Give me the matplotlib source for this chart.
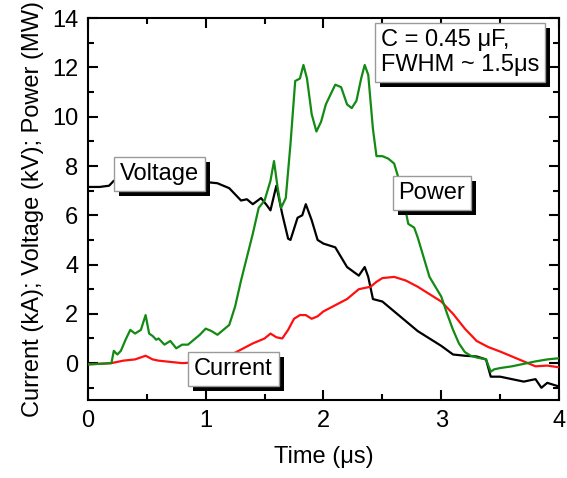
import numpy as np
import matplotlib
matplotlib.use('Agg')
import matplotlib.pyplot as plt
import matplotlib.transforms as mtransforms
from matplotlib.patches import Rectangle

plt.rcParams['font.family'] = ['Liberation Sans', 'DejaVu Sans']

t_voltage = [0.0, 0.1, 0.18, 0.22, 0.26, 0.4, 0.6, 0.8, 1.0, 1.1, 1.2, 1.3, 1.35, 1.4, 1.47, 1.52, 1.55,
             1.6, 1.65, 1.7, 1.72, 1.78, 1.82, 1.85, 1.9, 1.95, 2.0, 2.1, 2.2, 2.3, 2.35, 2.38, 2.42,
             2.5, 2.6, 2.7, 2.8, 2.9, 3.0, 3.1, 3.2, 3.3, 3.38, 3.42, 3.5, 3.6, 3.7, 3.8, 3.85, 3.9, 4.0]
voltage = [7.15, 7.15, 7.2, 7.4, 7.3, 7.35, 7.35, 7.35, 7.35, 7.3, 7.1, 6.6, 6.65, 6.45, 6.7, 6.4, 6.2,
           7.2, 6.05, 5.05, 5.0, 5.9, 6.0, 6.45, 5.8, 5.0, 4.85, 4.7, 3.9, 3.55, 3.9, 3.5, 2.6,
           2.5, 2.1, 1.7, 1.3, 1.0, 0.7, 0.35, 0.3, 0.27, 0.15, -0.55, -0.55, -0.65, -0.75, -0.65, -1.0, -0.8, -0.95]

t_power = [0.0, 0.1, 0.2, 0.22, 0.25, 0.28, 0.32, 0.36, 0.4, 0.45, 0.49, 0.52, 0.55, 0.58, 0.6, 0.65,
           0.7, 0.75, 0.8, 0.85, 0.9, 0.95, 1.0, 1.05, 1.1, 1.15, 1.2, 1.25, 1.3, 1.35, 1.4, 1.45,
           1.5, 1.55, 1.58, 1.61, 1.64, 1.68, 1.72, 1.76, 1.8, 1.83, 1.86, 1.9, 1.94, 1.98, 2.02,
           2.06, 2.1, 2.15, 2.2, 2.24, 2.28, 2.32, 2.35, 2.38, 2.42, 2.45, 2.5, 2.55, 2.6, 2.65,
           2.72, 2.77, 2.8, 2.85, 2.9, 2.95, 3.0, 3.05, 3.1, 3.15, 3.2, 3.25, 3.3, 3.38, 3.42, 3.45,
           3.5, 3.6, 3.7, 3.8, 3.9, 4.0]
power = [-0.05, -0.03, 0.0, 0.5, 0.35, 0.5, 0.95, 1.35, 1.2, 1.35, 1.95, 1.2, 1.1, 0.95, 1.0, 0.75,
         0.9, 0.6, 0.75, 0.75, 0.95, 1.15, 1.4, 1.3, 1.15, 1.35, 1.55, 2.3, 3.35, 4.3, 5.25, 6.3,
         6.6, 7.4, 8.2, 7.15, 6.3, 6.7, 8.9, 11.45, 11.55, 12.1, 11.55, 10.1, 9.4, 9.8, 10.5,
         10.9, 11.3, 11.2, 10.5, 10.35, 10.65, 11.55, 12.1, 11.7, 9.5, 8.4, 8.4, 8.3, 8.1, 7.3,
         5.65, 5.5, 5.1, 4.3, 3.5, 3.1, 2.7, 2.0, 1.35, 0.8, 0.45, 0.3, 0.23, 0.15, -0.35, -0.25,
         -0.2, -0.13, -0.03, 0.07, 0.15, 0.2]

t_current = [0.0, 0.2, 0.3, 0.4, 0.49, 0.55, 0.6, 0.7, 0.8, 1.0, 1.2, 1.3, 1.4, 1.5, 1.55, 1.6, 1.65,
             1.7, 1.75, 1.8, 1.85, 1.9, 1.95, 2.0, 2.1, 2.2, 2.3, 2.4, 2.45, 2.5, 2.6, 2.7, 2.8,
             2.9, 3.0, 3.1, 3.2, 3.3, 3.4, 3.5, 3.6, 3.7, 3.8, 3.9, 4.0]
current = [-0.05, 0.0, 0.1, 0.15, 0.3, 0.15, 0.1, 0.05, 0.0, 0.05, 0.3, 0.55, 0.8, 1.0, 1.2, 1.05, 1.0,
           1.35, 1.8, 1.95, 1.95, 1.8, 1.9, 2.1, 2.35, 2.6, 3.0, 3.1, 3.3, 3.45, 3.5, 3.35, 3.1,
           2.8, 2.5, 2.0, 1.4, 0.9, 0.65, 0.47, 0.27, 0.07, -0.13, -0.1, -0.17]

# text labels: (text, x, y)
labels = [("Voltage", 0.607, 7.68), ("Power", 2.92, 6.89), ("Current", 1.236, -0.24)]
note = "C = 0.45 μF,\nFWHM ~ 1.5μs"


def boxed_text(ax, x, y, s, ha='center', ls=1.0):
    box = dict(boxstyle='square,pad=0.25', facecolor='white', edgecolor='#9a9a9a', linewidth=1)
    return ax.text(x, y, s, ha=ha, va='center', fontsize=17, color='black',
                   bbox=box, zorder=6, linespacing=ls)


def main():
    fig = plt.figure(figsize=(5.67, 4.78), dpi=100)
    ax = fig.add_axes([0.155, 0.163, 0.831, 0.799])

    ax.plot(t_voltage, voltage, color='black', lw=1.6, zorder=3)
    ax.plot(t_current, current, color='#ff1010', lw=1.6, zorder=3)
    ax.plot(t_power, power, color='#138a13', lw=1.6, zorder=4)

    ax.set_xlim(0, 4)
    ax.set_ylim(-1.5, 14)
    ax.set_xticks(np.arange(0, 5, 1))
    ax.set_xticks(np.arange(0.5, 4, 1), minor=True)
    ax.set_yticks(np.arange(0, 15, 2))
    ax.set_yticks(np.arange(-1, 14, 2), minor=True)
    ax.tick_params(which='both', direction='in', top=True, right=True, width=1.5, labelsize=17, pad=7)
    ax.tick_params(which='major', length=7)
    ax.tick_params(which='minor', length=4)
    for sp in ax.spines.values():
        sp.set_linewidth(1.5)

    ax.set_xlabel('Time (μs)', fontsize=17, labelpad=10)
    ax.set_ylabel('Current (kA); Voltage (kV); Power (MW)', fontsize=17, labelpad=6)

    texts = [boxed_text(ax, x, y, s) for s, x, y in labels]
    texts.append(boxed_text(ax, 2.49, 12.6, note, ha='left', ls=1.15))

    # black drop shadows behind the label boxes
    fig.canvas.draw()
    for t in texts:
        bb = t.get_bbox_patch().get_window_extent()
        ax.add_patch(Rectangle((bb.x0 + 5, bb.y0 - 5), bb.width, bb.height,
                               transform=mtransforms.IdentityTransform(),
                               facecolor='black', edgecolor='none', zorder=5, clip_on=False))

    fig.savefig('out.png', dpi=100)


if __name__ == "__main__":
    main()
